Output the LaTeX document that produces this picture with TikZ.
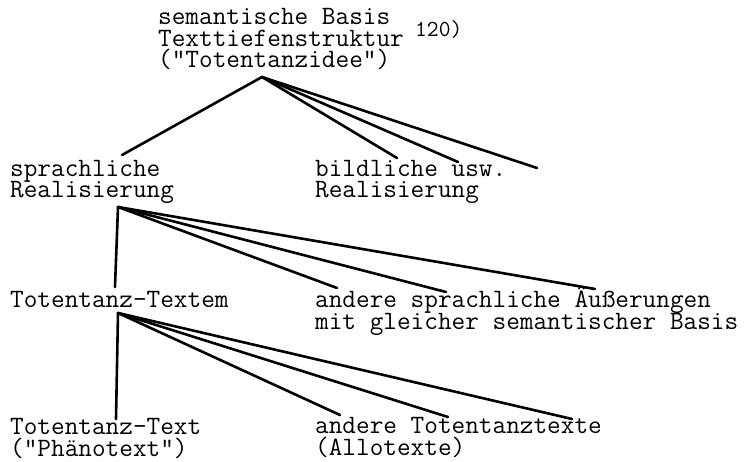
\documentclass[tikz,border=0pt]{standalone}
\usepackage{fontspec}
\setlength{\lineskiplimit}{-20pt}
\begin{document}
\begin{tikzpicture}[x=1pt, y=-1pt,
        label/.style={anchor=base west, inner sep=0pt, align=left, font=\ttfamily\fontsize{26.5}{21.5}\selectfont},
        branch/.style={line width=2.6pt, line cap=round}]
            \useasboundingbox (0, 0) rectangle (749, 462);
            \node (basis) at (158, 68) [label] {semantische Basis\\Texttiefenstruktur\\("Totentanzidee")};
            \node (note) at (415, 37) [label, font=\ttfamily\fontsize{22.9}{22.9}\selectfont] {120)};
            \node (sprachlich) at (10, 198) [label] {sprachliche\\Realisierung};
            \node (bildlich) at (315, 198) [label] {bildliche usw.\\Realisierung};
            \node (textem) at (10, 307) [label] {Totentanz-Textem};
            \node (aeusserungen) at (315, 329) [label] {andere sprachliche Äußerungen\\mit gleicher semantischer Basis};
            \node (phaenotext) at (10, 456) [label] {Totentanz-Text\\("Phänotext")};
            \node (allotexte) at (315, 455) [label] {andere Totentanztexte\\(Allotexte)};
            \coordinate (basis-foot) at (262, 77);
            \coordinate (sprachlich-head) at (122, 155);
            \coordinate (bildlich-head-a) at (397, 158);
            \coordinate (bildlich-head-b) at (458, 162);
            \coordinate (bildlich-head-c) at (537, 168);
            \coordinate (sprachlich-foot) at (118, 207);
            \coordinate (textem-head) at (115, 287);
            \coordinate (aeusserungen-head-a) at (337, 288);
            \coordinate (aeusserungen-head-b) at (446, 292);
            \coordinate (aeusserungen-head-c) at (595, 289);
            \coordinate (textem-foot) at (118, 313);
            \coordinate (phaenotext-head) at (116, 419);
            \coordinate (allotexte-head-a) at (340, 415);
            \coordinate (allotexte-head-b) at (448, 417);
            \coordinate (allotexte-head-c) at (572, 419);
            \draw[branch] (basis-foot) -- (sprachlich-head);
            \draw[branch] (basis-foot) -- (bildlich-head-a);
            \draw[branch] (basis-foot) -- (bildlich-head-b);
            \draw[branch] (basis-foot) -- (bildlich-head-c);
            \draw[branch] (sprachlich-foot) -- (textem-head);
            \draw[branch] (sprachlich-foot) -- (aeusserungen-head-a);
            \draw[branch] (sprachlich-foot) -- (aeusserungen-head-b);
            \draw[branch] (sprachlich-foot) -- (aeusserungen-head-c);
            \draw[branch] (textem-foot) -- (phaenotext-head);
            \draw[branch] (textem-foot) -- (allotexte-head-a);
            \draw[branch] (textem-foot) -- (allotexte-head-b);
            \draw[branch] (textem-foot) -- (allotexte-head-c);
        \end{tikzpicture}
\end{document}
